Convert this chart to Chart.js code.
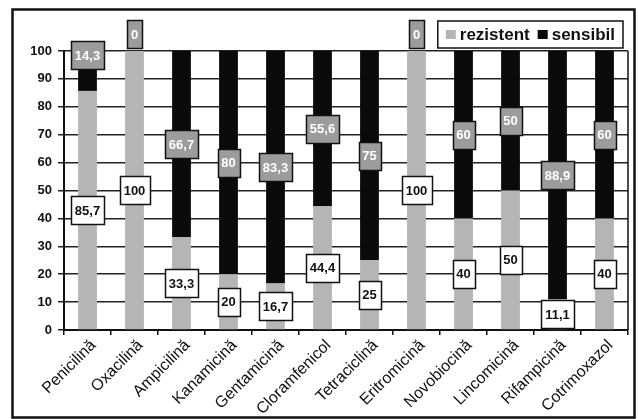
<!DOCTYPE html>
<html><head><meta charset="utf-8">
<script src="https://cdn.jsdelivr.net/npm/chart.js@4/dist/chart.umd.min.js"></script>
<style>html,body{margin:0;padding:0;background:#fff}#wrap{width:638px;height:419px;position:relative}</style>
</head><body><div id="wrap"><canvas id="c" width="638" height="419"></canvas></div>
<script>
const categories = ['Penicilină','Oxacilină','Ampicilină','Kanamicină','Gentamicină','Cloramfenicol','Tetraciclină','Eritromicină','Novobiocină','Lincomicină','Rifampicină','Cotrimoxazol'];
const rezistent = [85.7, 100, 33.3, 20, 16.7, 44.4, 25, 100, 40, 50, 11.1, 40];
const sensibil  = [14.3, 0, 66.7, 80, 83.3, 55.6, 75, 0, 60, 50, 88.9, 60];
const yTicks = [0, 10, 20, 30, 40, 50, 60, 70, 80, 90, 100];

const FONT = "'Liberation Sans', Arial, sans-serif";

const framePlugin = {
  id: 'frame',
  afterDraw(chart) {
    const ctx = chart.ctx, a = chart.chartArea;
    ctx.save();
    ctx.strokeStyle = '#111';
    ctx.lineWidth = 1.5;
    ctx.beginPath();
    ctx.moveTo(a.right, a.top);
    ctx.lineTo(a.right, a.bottom);
    ctx.stroke();
    ctx.strokeStyle = '#111';
    ctx.lineWidth = 2.5;
    ctx.strokeRect(12.5, 9.5, 622, 408);
    ctx.restore();
  }
};

const legendPlugin = {
  id: 'boxLegend',
  afterDraw(chart) {
    const ctx = chart.ctx, a = chart.chartArea;
    ctx.save();
    ctx.font = "bold 17px " + FONT;
    const items = chart.data.datasets.map(d => ({label: d.label, color: d.backgroundColor, w: ctx.measureText(d.label).width}));
    const mk = 10, gapM = 4, gapI = 8, padL = 8, padR = 8;
    let total = padL + padR;
    items.forEach((it, i) => { total += mk + gapM + it.w + (i < items.length - 1 ? gapI : 0); });
    const right = a.right - 5, top = 21, h = 27;
    const left = right - total;
    ctx.fillStyle = '#fff';
    ctx.fillRect(left, top, total, h);
    ctx.strokeStyle = '#111';
    ctx.lineWidth = 1.5;
    ctx.strokeRect(left, top, total, h);
    let x = left + padL;
    const cy = top + h / 2;
    items.forEach(it => {
      ctx.fillStyle = it.color;
      ctx.fillRect(x, cy - 4.5, mk, 9);
      x += mk + gapM;
      ctx.fillStyle = '#111';
      ctx.textBaseline = 'middle';
      ctx.textAlign = 'left';
      ctx.fillText(it.label, x, cy + 1);
      x += it.w + gapI;
    });
    ctx.restore();
  }
};

const labelPlugin = {
  id: 'boxLabels',
  afterDatasetsDraw(chart) {
    const ctx = chart.ctx;
    const n = chart.data.datasets.length;
    ctx.save();
    ctx.font = "bold 13px " + FONT;
    ctx.textAlign = 'center';
    ctx.textBaseline = 'middle';
    chart.data.datasets.forEach((ds, di) => {
      const meta = chart.getDatasetMeta(di);
      meta.data.forEach((bar, i) => {
        const v = ds.data[i];
        const txt = String(v).replace('.', ',');
        const top = Math.min(bar.y, bar.base), bot = Math.max(bar.y, bar.base);
        const hSeg = bot - top;
        const boxH = 28;
        let cy;
        if (hSeg < 1) cy = top - boxH / 2 - 3;
        else if (di === n - 1 && hSeg < boxH * 1.5) cy = top + 4;
        else cy = (top + bot) / 2;
        const tw = ctx.measureText(txt).width;
        const bw = Math.round(tw + 8);
        const bx = Math.round(bar.x - bw / 2) + 0.5, by = Math.round(cy - boxH / 2) + 0.5;
        ctx.fillStyle = ds.labelFill;
        ctx.fillRect(bx, by, bw, boxH);
        ctx.strokeStyle = '#111';
        ctx.lineWidth = 1.5;
        ctx.strokeRect(bx, by, bw, boxH);
        ctx.fillStyle = ds.labelColor;
        ctx.fillText(txt, bar.x, cy + 1);
      });
    });
    ctx.restore();
  }
};

new Chart(document.getElementById('c'), {
  type: 'bar',
  data: {
    labels: categories,
    datasets: [
      {label: 'rezistent', data: rezistent, backgroundColor: '#b5b5b8', labelFill: '#ffffff', labelColor: '#111111',
       barPercentage: 0.4, categoryPercentage: 1.0},
      {label: 'sensibil', data: sensibil, backgroundColor: '#0a0a0a', labelFill: '#9c9c9c', labelColor: '#ffffff',
       barPercentage: 0.4, categoryPercentage: 1.0}
    ]
  },
  options: {
    responsive: false,
    animation: false,
    devicePixelRatio: 1,
    layout: {padding: {top: 51, right: 10, bottom: 0, left: 14}},
    plugins: {legend: {display: false}, tooltip: {enabled: false}},
    scales: {
      x: {
        stacked: true,
        grid: {display: true, drawOnChartArea: false, drawTicks: true, tickLength: 5, color: '#111', lineWidth: 1.5, offset: true},
        border: {display: true, color: '#111', width: 2},
        ticks: {color: '#111', font: {family: FONT, size: 16}, maxRotation: 45, minRotation: 45, autoSkip: false, padding: 1, labelOffset: 6},
        afterFit(scale) { scale.height = 89; }
      },
      y: {
        stacked: true,
        min: 0, max: 100,
        afterBuildTicks(scale) { scale.ticks = yTicks.map(v => ({value: v})); },
        grid: {color: '#222', lineWidth: 1.5, tickLength: 6, drawTicks: true},
        border: {display: true, color: '#111', width: 2},
        ticks: {color: '#111', font: {family: FONT, size: 13, weight: 'bold'}, padding: 6},
        afterFit(scale) { scale.width = 50; }
      }
    }
  },
  plugins: [labelPlugin, legendPlugin, framePlugin]
});
</script>
</body></html>
